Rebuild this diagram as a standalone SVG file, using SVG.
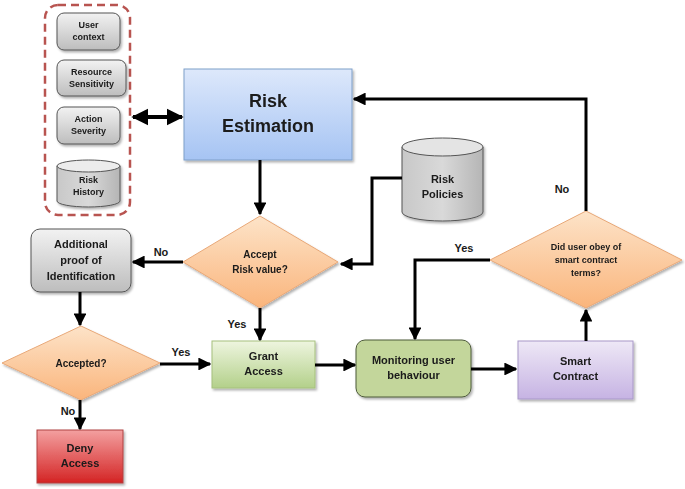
<svg xmlns="http://www.w3.org/2000/svg" width="685" height="489" viewBox="0 0 685 489">
<defs>
<linearGradient id="gGray" x1="0" y1="0" x2="0" y2="1"><stop offset="0" stop-color="#f2f2f2"/><stop offset="1" stop-color="#bdbdbd"/></linearGradient>
<linearGradient id="gBlue" x1="0" y1="0" x2="0" y2="1"><stop offset="0" stop-color="#dde8fb"/><stop offset="1" stop-color="#a6c4f3"/></linearGradient>
<linearGradient id="gOrange" x1="0" y1="0" x2="0" y2="1"><stop offset="0" stop-color="#fde3c8"/><stop offset="1" stop-color="#fab57c"/></linearGradient>
<linearGradient id="gGreen" x1="0" y1="0" x2="0" y2="1"><stop offset="0" stop-color="#eef5df"/><stop offset="1" stop-color="#b3d08a"/></linearGradient>
<linearGradient id="gPurple" x1="0" y1="0" x2="0" y2="1"><stop offset="0" stop-color="#eee8f6"/><stop offset="1" stop-color="#c6b3e3"/></linearGradient>
<linearGradient id="gRed" x1="0" y1="0" x2="0" y2="1"><stop offset="0" stop-color="#f3a0a0"/><stop offset="1" stop-color="#d42424"/></linearGradient>
<linearGradient id="gCyl" x1="0" y1="0" x2="1" y2="0"><stop offset="0" stop-color="#c8c8c8"/><stop offset="0.5" stop-color="#d9d9d9"/><stop offset="1" stop-color="#b5b5b5"/></linearGradient>
<filter id="sh" x="-10%" y="-10%" width="130%" height="130%"><feDropShadow dx="1.5" dy="2" stdDeviation="1.2" flood-color="#000" flood-opacity="0.3"/></filter>
<marker id="ah" viewBox="0 0 10 10" refX="9" refY="5" markerWidth="4.3" markerHeight="4.3" orient="auto-start-reverse" markerUnits="strokeWidth"><path d="M0,0 L10,5 L0,10 z" fill="#000"/></marker>
</defs>
<style>
text{font-family:"Liberation Sans",Arial,sans-serif;font-weight:bold;fill:#1a1a1a;text-anchor:middle}
.s{font-size:9px}
.d{font-size:10px}
.m{font-size:11px}
.l{font-size:18px}
.lbl{font-size:11px}
.c{fill:none;stroke:#000;stroke-width:3;marker-end:url(#ah)}
</style>
<rect width="685" height="489" fill="#fff"/>

<g id="context-group">
<rect x="45" y="5" width="85" height="210" rx="13" fill="none" stroke="#b85450" stroke-width="2.5" stroke-dasharray="8,5"/>
</g>
<g id="user-context" filter="url(#sh)">
<rect x="57" y="13" width="63" height="37" rx="7" fill="url(#gGray)" stroke="#555"/>
<text class="s" x="88.5" y="28">User</text><text class="s" x="88.5" y="40">context</text>
</g>
<g id="resource-sensitivity" filter="url(#sh)">
<rect x="57" y="60" width="69" height="36" rx="7" fill="url(#gGray)" stroke="#555"/>
<text class="s" x="91.5" y="75">Resource</text><text class="s" x="91.5" y="87">Sensitivity</text>
</g>
<g id="action-severity" filter="url(#sh)">
<rect x="57" y="107" width="63" height="37" rx="7" fill="url(#gGray)" stroke="#555"/>
<text class="s" x="88.5" y="122">Action</text><text class="s" x="88.5" y="134">Severity</text>
</g>
<g id="risk-history" filter="url(#sh)">
<path d="M57,166 L57,201 A31.5,6 0 0 0 120,201 L120,166" fill="url(#gCyl)" stroke="#555"/>
<ellipse cx="88.5" cy="166" rx="31.5" ry="6" fill="#ececec" stroke="#555"/>
<text class="s" x="88.5" y="183">Risk</text><text class="s" x="88.5" y="195">History</text>
</g>

<g id="risk-estimation" filter="url(#sh)">
<rect x="184" y="69" width="168" height="91" fill="url(#gBlue)" stroke="#7f9fc9"/>
<text class="l" x="268" y="107">Risk</text><text class="l" x="268" y="132">Estimation</text>
</g>

<g id="risk-policies" filter="url(#sh)">
<path d="M402,147 L402,212 A40.5,9 0 0 0 483,212 L483,147" fill="url(#gCyl)" stroke="#555"/>
<ellipse cx="442.5" cy="147" rx="40.5" ry="9" fill="#e4e4e4" stroke="#555"/>
<text class="m" x="442.5" y="183">Risk</text><text class="m" x="442.5" y="198">Policies</text>
</g>

<g id="accept-risk" filter="url(#sh)">
<polygon points="260,216 338,262 260,308 183,262" fill="url(#gOrange)" stroke="#e8a878"/>
<text class="d" x="260" y="258">Accept</text><text class="d" x="260" y="273">Risk value?</text>
</g>

<g id="additional-proof" filter="url(#sh)">
<rect x="31" y="229" width="100" height="63" rx="9" fill="url(#gGray)" stroke="#555"/>
<text class="m" x="81" y="248">Additional</text><text class="m" x="81" y="264">proof of</text><text class="m" x="81" y="280">Identification</text>
</g>

<g id="accepted" filter="url(#sh)">
<polygon points="81,326 160,363 81,400 2,363" fill="url(#gOrange)" stroke="#e8a878"/>
<text class="d" x="81" y="367">Accepted?</text>
</g>

<g id="deny-access" filter="url(#sh)">
<rect x="37" y="430" width="86" height="53" fill="url(#gRed)" stroke="#b04040"/>
<text class="m" x="80" y="452">Deny</text><text class="m" x="80" y="467">Access</text>
</g>

<g id="grant-access" filter="url(#sh)">
<rect x="212" y="341" width="103" height="47" fill="url(#gGreen)" stroke="#a6c07c"/>
<text class="m" x="263.5" y="360">Grant</text><text class="m" x="263.5" y="375">Access</text>
</g>

<g id="monitoring" filter="url(#sh)">
<rect x="356" y="340" width="115" height="57" rx="9" fill="#c3d69b" stroke="#4d5a3a"/>
<text class="m" x="413.5" y="364">Monitoring user</text><text class="m" x="413.5" y="379">behaviour</text>
</g>

<g id="smart-contract" filter="url(#sh)">
<rect x="518" y="341" width="115" height="58" fill="url(#gPurple)" stroke="#a898c8"/>
<text class="m" x="575.5" y="365">Smart</text><text class="m" x="575.5" y="380">Contract</text>
</g>

<g id="did-user-obey" filter="url(#sh)">
<polygon points="586,211 682,260 586,308 490,260" fill="url(#gOrange)" stroke="#e8a878"/>
<text class="s" x="586" y="250">Did user obey of</text><text class="s" x="586" y="263">smart contract</text><text class="s" x="586" y="276">terms?</text>
</g>

<g id="connectors">
<path d="M133,117 L182,117" fill="none" stroke="#000" stroke-width="4" marker-start="url(#ah)" marker-end="url(#ah)"/>
<path class="c" d="M260,160 L260,214"/>
<path class="c" d="M402,178 L372,178 L372,264 L341,264"/>
<path class="c" d="M183,262 L133,262"/>
<path class="c" d="M80,292 L80,325"/>
<path class="c" d="M160,364 L210,364"/>
<path class="c" d="M80,400 L80,429"/>
<path class="c" d="M260,308 L260,340"/>
<path class="c" d="M315,365 L355,365"/>
<path class="c" d="M471,369 L516,369"/>
<path class="c" d="M586,341 L586,310"/>
<path class="c" d="M490,260 L415,260 L415,339"/>
<path class="c" d="M586,211 L586,99 L354,99"/>
</g>

<g id="labels">
<text class="lbl" x="161" y="256">No</text>
<text class="lbl" x="181" y="356">Yes</text>
<text class="lbl" x="68" y="415">No</text>
<text class="lbl" x="237" y="328">Yes</text>
<text class="lbl" x="464" y="252">Yes</text>
<text class="lbl" x="562" y="193">No</text>
</g>
</svg>
